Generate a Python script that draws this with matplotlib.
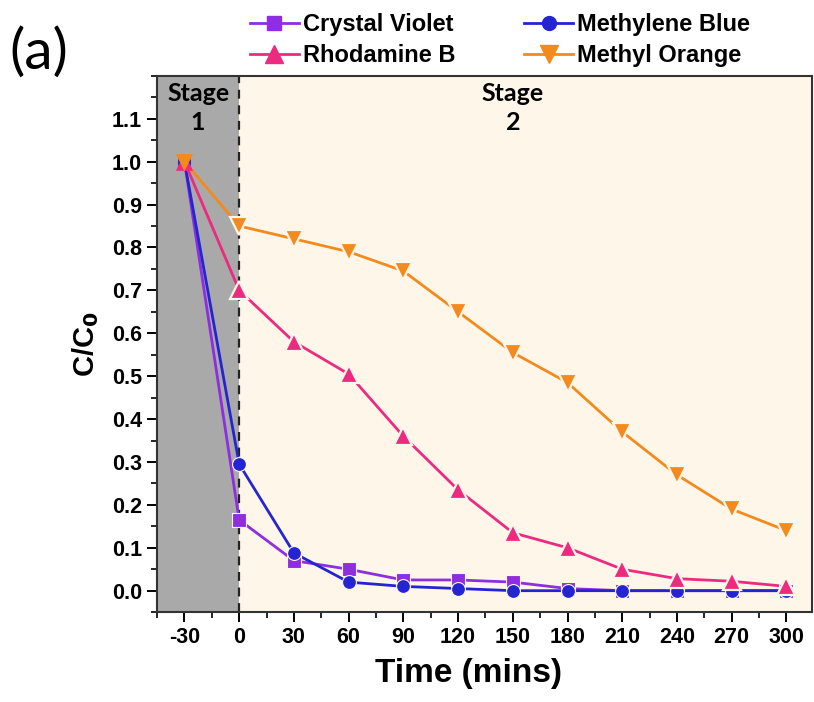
import matplotlib
matplotlib.use("Agg")
import matplotlib.pyplot as plt
from matplotlib.ticker import MultipleLocator

plt.rcParams["axes.unicode_minus"] = False

time = [-30, 0, 30, 60, 90, 120, 150, 180, 210, 240, 270, 300]
crystal_violet = [1.0, 0.165, 0.07, 0.05, 0.025, 0.025, 0.02, 0.005, 0.0, 0.0, 0.0, 0.0]
methylene_blue = [1.0, 0.295, 0.088, 0.02, 0.01, 0.005, 0.0, 0.0, 0.0, 0.0, 0.0, 0.0]
rhodamine_b = [1.0, 0.70, 0.58, 0.505, 0.36, 0.235, 0.135, 0.10, 0.05, 0.028, 0.022, 0.01]
methyl_orange = [1.0, 0.85, 0.82, 0.79, 0.745, 0.65, 0.555, 0.485, 0.37, 0.27, 0.19, 0.14]

series = [
    ("Crystal Violet", crystal_violet, "#8E2EE0", "s"),
    ("Methylene Blue", methylene_blue, "#2424D2", "o"),
    ("Rhodamine B", rhodamine_b, "#EC2A80", "^"),
    ("Methyl Orange", methyl_orange, "#F38A1D", "v"),
]
# column-major order so the legend reads row by row: CV, MB / RhB, MO
legend_order = ["Crystal Violet", "Rhodamine B", "Methylene Blue", "Methyl Orange"]

GRAY = "#A9A9A9"
CREAM = "#FEF7E9"
BOLD = "Liberation Sans"

fig = plt.figure(figsize=(8.14, 7.02), dpi=100)
ax = fig.add_axes([0.193, 0.128, 0.8045, 0.764])
ax.set_xlim(-45, 314)
ax.set_ylim(-0.05, 1.2)
ax.axvspan(-45, 0, color=GRAY, zorder=0, lw=0)
ax.axvspan(0, 314, color=CREAM, zorder=0, lw=0)
ax.axvline(0, color="#222222", ls=(0, (4, 3)), lw=1.6, zorder=1)

handles = {}
for name, vals, col, mk in series:
    ax.plot(time, vals, color=col, lw=2.0, zorder=2)
    ms = 12.5 if mk in "^v" else 10
    halo = 1.6 if mk in "^v" else 0.8
    # markers with a halo in the background colour so lines stop short of them
    ax.plot(time[1:], vals[1:], ls="none", marker=mk, ms=ms, mfc=col,
            mec=CREAM, mew=halo, zorder=3)
    ax.plot(time[:1], vals[:1], ls="none", marker=mk, ms=ms - 1, mfc=col,
            mec=col, mew=0.5, zorder=3)
    h, = ax.plot([], [], color=col, lw=2.0, marker=mk, ms=ms, mfc=col, mec=col)
    handles[name] = h

ax.set_xticks(time)
ax.xaxis.set_minor_locator(MultipleLocator(15))
ax.yaxis.set_minor_locator(MultipleLocator(0.05))
ax.set_yticks([i / 10 for i in range(12)])
ax.set_yticklabels([f"{i / 10:.1f}" for i in range(12)])
ax.tick_params(which="major", direction="out", length=7, width=1.4,
               labelsize=15.5, top=False, right=False, pad=4)
ax.tick_params(which="minor", direction="out", length=4, width=1.2,
               top=False, right=False)
for lab in ax.get_xticklabels() + ax.get_yticklabels():
    lab.set_fontfamily(BOLD)
    lab.set_fontweight("bold")
for sp in ax.spines.values():
    sp.set_linewidth(1.5)
    sp.set_color("#333333")

ax.set_xlabel("Time (mins)", fontsize=24, fontweight="bold", family=BOLD)
ax.xaxis.set_label_coords(0.475, -0.085)
ax.set_ylabel(r"C/C$_\mathbf{0}$", fontsize=21, fontweight="bold", family=BOLD, labelpad=8)

ax.text(-22.5, 1.125, "Stage\n1", ha="center", va="center", fontsize=18,
        fontweight="bold", family="Lato", linespacing=1.35)
ax.text(150, 1.125, "Stage\n2", ha="center", va="center", fontsize=18,
        fontweight="bold", family="Lato", linespacing=1.35)

fig.text(0.012, 0.925, "(a)", fontsize=41, family="Lato", va="center", ha="left")

fig.legend([handles[n] for n in legend_order], legend_order, ncol=2,
           loc="upper center", bbox_to_anchor=(0.614, 1.012), frameon=False,
           prop={"family": BOLD, "weight": "bold", "size": 17},
           handlelength=2.1, columnspacing=2.9, labelspacing=0.35,
           handletextpad=0.15)

fig.savefig("out.png", dpi=100, facecolor="white")
